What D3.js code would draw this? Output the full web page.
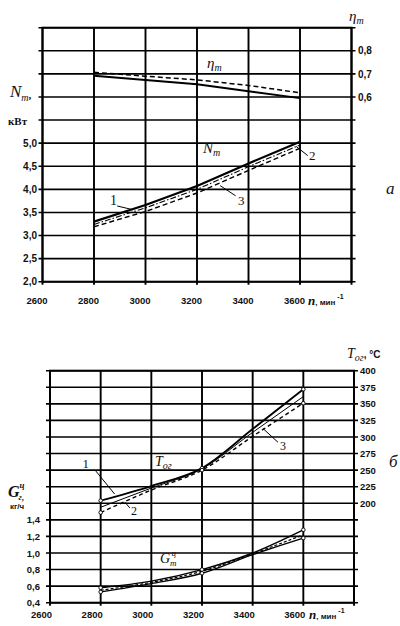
<!DOCTYPE html>
<html>
<head>
<meta charset="utf-8">
<script src="https://cdn.jsdelivr.net/npm/d3@7"></script>
<style>
	body { margin: 0; background: #fff; }
	svg text { fill: #111; }
</style>
</head>
<body>
<div id="main"></div>
<script>
// values
var rpm = [2800, 3000, 3200, 3400, 3600];
var etaSolid = [0.692, 0.673, 0.655, 0.625, 0.595];
var etaDash = [0.707, 0.690, 0.674, 0.650, 0.618];
var power1 = [3.30, 3.66, 4.07, 4.56, 5.03];
var power2 = [3.24, 3.60, 4.00, 4.49, 4.96];
var power3 = [3.19, 3.52, 3.92, 4.41, 4.89];
var temp1 = [204, 226, 253, 312, 372];
var temp2 = [194, 223, 252, 307, 361];
var temp3 = [186, 220, 250, 301, 351];
var fuel1 = [0.58, 0.66, 0.80, 1.00, 1.28];
var fuel2 = [0.55, 0.645, 0.78, 0.99, 1.22];
var fuel3 = [0.53, 0.63, 0.755, 0.98, 1.18];

var rpmTicks = [2600, 2800, 3000, 3200, 3400, 3600];
var powerTicks = [2.0, 2.5, 3.0, 3.5, 4.0, 4.5, 5.0];
var etaTicks = [0.6, 0.7, 0.8];
var fuelTicks = [0.4, 0.6, 0.8, 1.0, 1.2, 1.4];
var tempTicks = [200, 225, 250, 275, 300, 325, 350, 375, 400];

var svg = d3.select('#main').append('svg')
			.attr('width', 400)
			.attr('height', 626);

var serif = '"Liberation Serif", "DejaVu Serif", serif';
var sans = '"Liberation Sans", Arial, sans-serif';

function comma(d){
	return d3.format('.1f')(d).replace('.', ',');
}

// top panel scales (a)
var xA = d3.scaleLinear().domain([2600, 3800]).range([42.5, 351.5]);
var yN = d3.scaleLinear().domain([2.0, 7.5]).range([281.7, 27.7]);
var yEta = d3.scaleLinear().domain([-0.2, 0.9]).range([281.7, 27.7]);

// bottom panel scales (б)
var xB = d3.scaleLinear().domain([2600, 3800]).range([50, 354]);
var yG = d3.scaleLinear().domain([0.4, 3.2]).range([602.7, 370.7]);
var yT = d3.scaleLinear().domain([50, 400]).range([602.7, 370.7]);

// grid + frame of one panel
function drawGrid(x, y, rows){
	var x0 = x.range()[0], x1 = x.range()[1];
	var y0 = y.range()[0], y1 = y.range()[1];
	var g = svg.append('g').attr('stroke', '#000').attr('fill', 'none');

	g.selectAll('line.h')
		.data(rows)
		.enter()
		.append('line')
		.attr('x1', x0 - 4).attr('x2', x1 + 4)
		.attr('y1', function(d){ return y(d); })
		.attr('y2', function(d){ return y(d); })
		.attr('stroke-width', 1.6);

	g.selectAll('line.v')
		.data(rpmTicks.concat([3800]))
		.enter()
		.append('line')
		.attr('x1', function(d){ return x(d); })
		.attr('x2', function(d){ return x(d); })
		.attr('y1', y1).attr('y2', y0 + 3)
		.attr('stroke-width', 1.9);

	g.append('rect')
		.attr('x', x0).attr('y', y1)
		.attr('width', x1 - x0).attr('height', y0 - y1)
		.attr('stroke-width', 2);
}

function drawAxis(axis, tx, ty, size, dx){
	var g = svg.append('g')
		.attr('transform', 'translate(' + tx + ',' + ty + ')')
		.call(axis.tickSize(0).tickPadding(0));
	g.select('.domain').remove();
	g.selectAll('text')
		.attr('font-family', sans)
		.attr('font-weight', 'bold')
		.attr('font-size', size)
		.attr('dx', dx || 0);
	return g;
}

function drawLine(x, y, values, dash, width, curve){
	var line = d3.line()
		.x(function(d, i){ return x(rpm[i]); })
		.y(function(d){ return y(d); })
		.curve(curve || d3.curveLinear);
	svg.append('path')
		.datum(values)
		.attr('d', line)
		.attr('fill', 'none')
		.attr('stroke', '#000')
		.attr('stroke-width', width)
		.attr('stroke-dasharray', dash);
}

function drawMarkers(x, y, values){
	svg.append('g').selectAll('circle')
		.data(values.filter(function(d, i){ return i % 2 == 0; }))
		.enter()
		.append('circle')
		.attr('cx', function(d, i){ return x(rpm[i * 2]); })
		.attr('cy', function(d){ return y(d); })
		.attr('r', 1.8)
		.attr('fill', '#fff')
		.attr('stroke', '#000')
		.attr('stroke-width', 0.9);
}

// leader line between two points given in data units
function leader(x, y, a, b){
	svg.append('line')
		.attr('x1', x(a[0])).attr('y1', y(a[1]))
		.attr('x2', x(b[0])).attr('y2', y(b[1]))
		.attr('stroke', '#000')
		.attr('stroke-width', 1);
}

// text with optional sub / superscript parts
function label(px, py, parts){
	var t = svg.append('text').attr('x', px).attr('y', py);
	parts.forEach(function(p){
		t.append('tspan')
			.text(p.t)
			.attr('font-family', p.f || serif)
			.attr('font-size', p.s)
			.attr('font-style', p.i ? 'italic' : 'normal')
			.attr('font-weight', p.b ? 'bold' : 'normal')
			.attr('dy', p.dy || 0)
			.attr('dx', p.dx || 0);
	});
	return t;
}

function rpmLabel(px, py){
	label(px, py, [
		{t: 'n', s: 13, i: true, b: true},
		{t: ', мин', s: 8, b: true, f: sans},
		{t: '-1', s: 7, b: true, f: sans, dy: -6, dx: 2}
	]);
}

// ---------- panel a ----------
drawGrid(xA, yN, d3.range(2.0, 7.51, 0.5));

drawAxis(d3.axisLeft(yN).tickValues(powerTicks).tickFormat(comma), 37, 0, 10);
drawAxis(d3.axisRight(yEta).tickValues(etaTicks).tickFormat(comma), 358, 0, 10);
drawAxis(d3.axisBottom(xA).tickValues(rpmTicks).tickFormat(d3.format('d')), 0, 297, 9.5, -6);
rpmLabel(308, 305);

drawLine(xA, yEta, etaSolid, null, 2);
drawLine(xA, yEta, etaDash, '5,3', 1.5);
drawLine(xA, yN, power1, null, 2.2);
drawLine(xA, yN, power2, '6,2,1.5,2', 1.1);
drawLine(xA, yN, power3, '5,3', 1.4);

leader(xA, yN, [2890, 3.64], [2950, 3.56]);
leader(xA, yN, [3290, 4.08], [3350, 3.86]);
leader(xA, yN, [3585, 4.93], [3630, 4.73]);
label(xA(2862), yN(3.66), [{t: '1', s: 14}]);
label(xA(3359), yN(3.66), [{t: '3', s: 13}]);
label(xA(3635), yN(4.63), [{t: '2', s: 13}]);

label(207, 68, [{t: 'η', s: 15, i: true}, {t: 'т', s: 10, i: true, dy: 3}]);
label(349, 21, [{t: 'η', s: 15, i: true}, {t: 'т', s: 10, i: true, dy: 3}]);
label(203, 153, [{t: 'N', s: 15, i: true}, {t: 'т', s: 10, i: true, dy: 3}]);
label(10, 97, [{t: 'N', s: 17, i: true}, {t: 'т', s: 10, i: true, dy: 4}, {t: ',', s: 11, b: true, dy: -2}]);
label(8, 125, [{t: 'кВт', s: 11, b: true}]);
label(386, 194, [{t: 'a', s: 17, i: true}]);

// ---------- panel б ----------
drawGrid(xB, yG, d3.range(0.4, 3.21, 0.2));

drawAxis(d3.axisLeft(yG).tickValues(fuelTicks).tickFormat(comma), 40, 0, 9.5);
drawAxis(d3.axisRight(yT).tickValues(tempTicks).tickFormat(d3.format('d')), 360, 0, 9.5);
drawAxis(d3.axisBottom(xB).tickValues(rpmTicks).tickFormat(d3.format('d')), 0, 611, 9.5, -9);
rpmLabel(309, 619);

var smooth = d3.curveMonotoneX;
drawLine(xB, yT, temp1, null, 1.8, smooth);
drawLine(xB, yT, temp2, null, 1, smooth);
drawLine(xB, yT, temp3, '4,3', 1.4, smooth);
drawLine(xB, yG, fuel1, null, 1.4, smooth);
drawLine(xB, yG, fuel2, '3,2', 1.2, smooth);
drawLine(xB, yG, fuel3, null, 1.4, smooth);
drawMarkers(xB, yT, temp1);
drawMarkers(xB, yT, temp3);
drawMarkers(xB, yG, fuel1);
drawMarkers(xB, yG, fuel3);

leader(xB, yT, [2778, 250], [2855, 214]);
leader(xB, yT, [2895, 202], [2915, 193]);
leader(xB, yT, [3440, 313], [3500, 292]);
label(xB(2728), yT(253), [{t: '1', s: 13}]);
label(xB(2920), yT(183), [{t: '2', s: 12}]);
label(xB(3508), yT(280), [{t: '3', s: 12}]);

label(xB(3014), yT(256), [{t: 'T', s: 14, i: true}, {t: 'ог', s: 10, i: true, dy: 3}]);
label(xB(3034), yG(0.88), [{t: 'G', s: 14, i: true}, {t: 'т', s: 9, i: true, dy: 3}, {t: 'ц', s: 9, i: true, dy: -10, dx: -5}]);
label(347, 358, [{t: 'T', s: 14, i: true}, {t: 'ог', s: 10, i: true, dy: 3}, {t: ', °С', s: 10, b: true, f: sans, dy: -3}]);
label(8, 497, [{t: 'G', s: 16, i: true, b: true}, {t: 'ц', s: 9, i: true, b: true, dy: -9}, {t: 'г,', s: 9, i: true, b: true, dy: 12, dx: -6}]);
label(10, 509, [{t: 'кг/ч', s: 8, b: true, f: sans}]);
label(389, 467, [{t: 'б', s: 17, i: true}]);
</script>
</body>
</html>
